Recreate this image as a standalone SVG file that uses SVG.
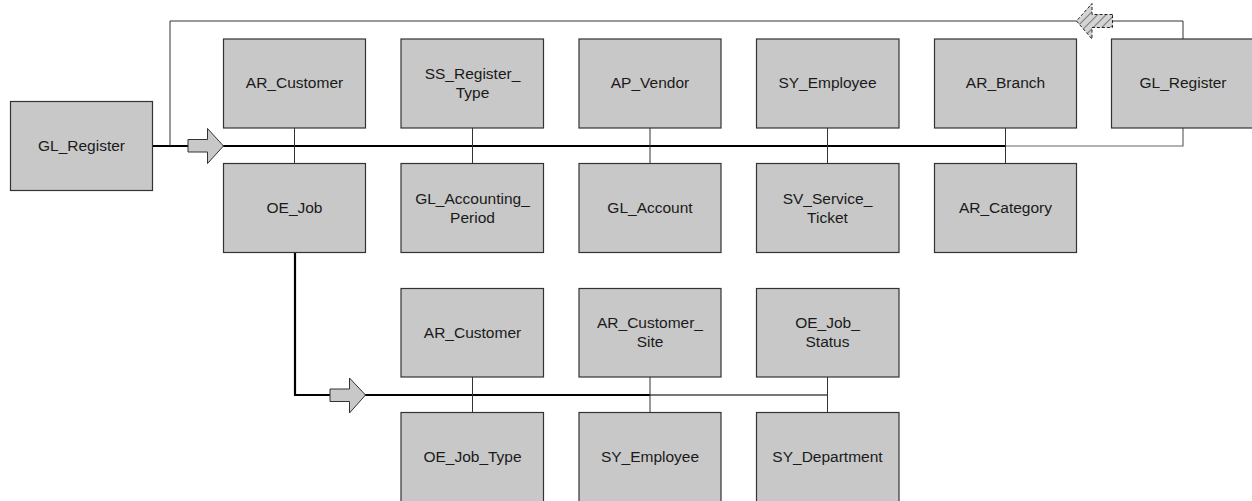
<svg xmlns="http://www.w3.org/2000/svg" width="1252" height="501" viewBox="0 0 1252 501">
<style>
.box{fill:#c8c8c8;stroke:#333;stroke-width:1.2}
.lbl{font-family:"Liberation Sans",Arial,sans-serif;font-size:15.5px;fill:#1a1a1a;text-anchor:middle}
.thin{fill:none;stroke:#333;stroke-width:1}
.thick{fill:none;stroke:#000;stroke-width:2.2}
.gray{fill:none;stroke:#666;stroke-width:1.2}
.barrow{fill:#c8c8c8;stroke:#333;stroke-width:1}
</style>
<defs>
<pattern id="hatch" patternUnits="userSpaceOnUse" width="6" height="6" patternTransform="rotate(45)">
<rect width="6" height="6" fill="#d4d4d4"/>
<line x1="0" y1="0" x2="0" y2="6" stroke="#777" stroke-width="2"/>
</pattern>
</defs>
<g id="connectors">
<path class="thick" d="M152.5,146 H1005.5"/>
<path class="gray" d="M1005.5,146 H1183 V128"/>
<path class="thin" d="M170,146 V21 H1183 V39"/>
<path class="thin" d="M294.5,128 V163.5 M472.5,128 V163.5 M650,128 V163.5 M827.5,128 V163.5 M1005.5,128 V163.5"/>
<path class="thick" d="M295,252.5 V395 H650"/>
<path fill="none" stroke="#777" stroke-width="2" d="M650,395 H828"/>
<path class="thin" d="M472.5,377 V412.5 M650,377 V412.5 M827.5,377 V412.5"/>
<polygon class="barrow" points="188,139.5 207.5,139.5 207.5,128.5 223.5,146 207.5,163.5 207.5,152 188,152"/>
<polygon class="barrow" points="330,389 349.5,389 349.5,378 365.5,395 349.5,413 349.5,401.5 330,401.5"/>
<polygon fill="url(#hatch)" stroke="#222" stroke-width="1" stroke-dasharray="3,2" points="1112.5,14.5 1092,14.5 1092,3.5 1076.5,21 1092,39 1092,27.5 1112.5,27.5"/>
</g>
<g id="n_gl_register_left"><rect class="box" x="10.5" y="101.5" width="142" height="89"/><text class="lbl" x="81.5" y="151">GL_Register</text></g>
<g id="n_ar_customer"><rect class="box" x="223.5" y="39" width="142" height="89"/><text class="lbl" x="294.5" y="88">AR_Customer</text></g>
<g id="n_ss_register_type"><rect class="box" x="401" y="39" width="142.5" height="89"/><text class="lbl" x="472.5" y="79">SS_Register_</text><text class="lbl" x="472.5" y="98">Type</text></g>
<g id="n_ap_vendor"><rect class="box" x="579" y="39" width="142" height="89"/><text class="lbl" x="650" y="88">AP_Vendor</text></g>
<g id="n_sy_employee"><rect class="box" x="756.5" y="39" width="142.5" height="89"/><text class="lbl" x="827.5" y="88">SY_Employee</text></g>
<g id="n_ar_branch"><rect class="box" x="934.5" y="39" width="142" height="89"/><text class="lbl" x="1005.5" y="88">AR_Branch</text></g>
<g id="n_gl_register_right"><rect class="box" x="1111.5" y="39" width="142" height="89"/><text class="lbl" x="1183" y="88">GL_Register</text></g>
<g id="n_oe_job"><rect class="box" x="223.5" y="163.5" width="142" height="89"/><text class="lbl" x="294.5" y="213">OE_Job</text></g>
<g id="n_gl_accounting_period"><rect class="box" x="401" y="163.5" width="142.5" height="89"/><text class="lbl" x="472.5" y="204">GL_Accounting_</text><text class="lbl" x="472.5" y="223">Period</text></g>
<g id="n_gl_account"><rect class="box" x="579" y="163.5" width="142" height="89"/><text class="lbl" x="650" y="213">GL_Account</text></g>
<g id="n_sv_service_ticket"><rect class="box" x="756.5" y="163.5" width="142.5" height="89"/><text class="lbl" x="827.5" y="204">SV_Service_</text><text class="lbl" x="827.5" y="223">Ticket</text></g>
<g id="n_ar_category"><rect class="box" x="934.5" y="163.5" width="142" height="89"/><text class="lbl" x="1005.5" y="213">AR_Category</text></g>
<g id="n_ar_customer2"><rect class="box" x="401" y="288.5" width="142.5" height="88.5"/><text class="lbl" x="472.5" y="338">AR_Customer</text></g>
<g id="n_ar_customer_site"><rect class="box" x="579" y="288.5" width="142" height="88.5"/><text class="lbl" x="650" y="328">AR_Customer_</text><text class="lbl" x="650" y="347">Site</text></g>
<g id="n_oe_job_status"><rect class="box" x="756.5" y="288.5" width="142.5" height="88.5"/><text class="lbl" x="827.5" y="328">OE_Job_</text><text class="lbl" x="827.5" y="347">Status</text></g>
<g id="n_oe_job_type"><rect class="box" x="401" y="412.5" width="142.5" height="90"/><text class="lbl" x="472.5" y="462">OE_Job_Type</text></g>
<g id="n_sy_employee2"><rect class="box" x="579" y="412.5" width="142" height="90"/><text class="lbl" x="650" y="462">SY_Employee</text></g>
<g id="n_sy_department"><rect class="box" x="756.5" y="412.5" width="142.5" height="90"/><text class="lbl" x="827.5" y="462">SY_Department</text></g>
</svg>
